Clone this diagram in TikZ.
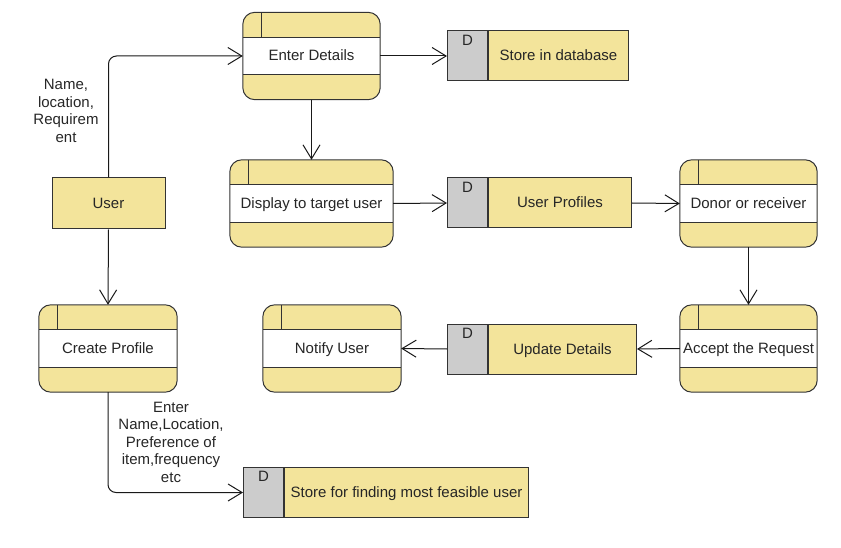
\documentclass[tikz,border=0pt]{standalone}
\usepackage{fontspec}
\setmainfont{Liberation Sans}
\usetikzlibrary{arrows.meta}
\definecolor{yel}{HTML}{F3E49B}
\definecolor{gry}{HTML}{CCCCCC}
\definecolor{edge}{HTML}{333333}
\tikzset{
  every node/.style={font=\fontsize{15}{17.5}\selectfont, text=black!85},
  procouter/.style={draw=none, fill=yel, rounded corners=12pt, minimum height=87pt, inner sep=0pt},
  procframe/.style={draw=edge, line width=1pt, rounded corners=12pt},
  storemain/.style={draw=edge, line width=1pt, fill=yel, minimum height=50pt, inner sep=0pt, text height=11pt, text depth=1pt},
  storeid/.style={draw=edge, line width=1pt, fill=gry, minimum height=50pt, minimum width=40pt, inner sep=0pt},
  entity/.style={draw=edge, line width=1pt, fill=yel, minimum width=113pt, minimum height=51pt, inner sep=0pt, text height=11pt, text depth=1pt},
  proctext/.style={text height=11pt, text depth=1pt, inner sep=0pt},
  flow/.style={draw=black!90, line width=1pt, -{Straight Barb[length=14pt,width=17pt,line width=1pt]}},
  lbl/.style={align=center, inner sep=0pt}
}
% process box: name, center, width, text
\newcommand{\procbox}[4]{%
  \node[procouter, minimum width=#3pt] (#1) at #2 {};
  \fill[white] ([yshift=-25pt]#1.north west) rectangle ([yshift=25pt]#1.south east);
  \draw[edge, line width=1pt] ([yshift=-25pt]#1.north west) -- ([yshift=-25pt]#1.north east);
  \draw[edge, line width=1pt] ([yshift=25pt]#1.south west) -- ([yshift=25pt]#1.south east);
  \draw[edge, line width=1pt] ([xshift=19pt]#1.north west) -- ([xshift=19pt,yshift=-25pt]#1.north west);
  \draw[procframe] (#1.south west) rectangle (#1.north east);
  \node[proctext] at (#1.center) {#4};
}
% data store: name, left x, center y, total width, text
\newcommand{\storebox}[5]{%
  \node[storeid, anchor=west] (#1-d) at (#2,#3) {};
  \node[anchor=north] at ([yshift=-1pt]#1-d.north) {D};
  \node[storemain, anchor=west, minimum width=#4pt-40pt] (#1) at (#1-d.east) {#5};
}
\begin{document}
\begin{tikzpicture}[x=1pt,y=-1pt]
\useasboundingbox (0,0) rectangle (841,548);

\procbox{enter}{(311.5,56)}{137}{Enter Details}
\procbox{display}{(311.5,203.5)}{163}{Display to target user}
\procbox{donor}{(748.5,203.5)}{137}{Donor or receiver}
\procbox{accept}{(748.5,348.5)}{137}{Accept the Request}
\procbox{notify}{(332,348.5)}{138}{Notify User}
\procbox{create}{(108,348.5)}{138}{Create Profile}

\node[entity] (user) at (108.5,203.5) {User};

\storebox{db}{447}{56}{180}{Store in database}
\storebox{prof}{447}{203}{183}{User Profiles}
\storebox{upd}{447}{349}{188}{Update Details}
\storebox{feas}{243}{492.5}{284}{Store for finding most feasible user}

\draw[flow, rounded corners=8pt] (user.north) |- (enter.west);
\draw[flow] (user.south) -- (create.north);
\draw[flow, rounded corners=8pt] (create.south) |- (feas-d.west);
\draw[flow] (enter.east) -- (db-d.west);
\draw[flow] (enter.south) -- (display.north);
\draw[flow] (display.east) -- (prof-d.west);
\draw[flow] (prof.east) -- (donor.west);
\draw[flow] (donor.south) -- (accept.north);
\draw[flow] (accept.west) -- (upd.east);
\draw[flow] (upd-d.west) -- (notify.east);

\node[lbl] (lblA) at (66,111) {Name,\\location,\\Requirem\\ent};
\node[lbl] (lblB) at (171,442) {Enter\\Name,Location,\\Preference of\\item,frequency\\etc};
\end{tikzpicture}
\end{document}
